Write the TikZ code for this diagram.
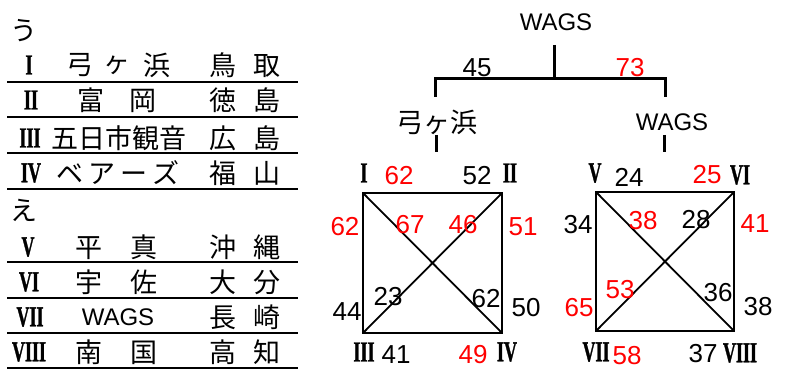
\documentclass[tikz,border=0pt]{standalone}
\usepackage{fontspec}
\usepackage{graphicx}
\setmainfont{Liberation Sans}
\newfontfamily\jpfont{Noto Sans CJK JP}
\newfontfamily\rnfont[BoldFeatures={FakeBold=1.5}]{Liberation Serif}
\newcommand{\rnum}[1]{\scalebox{0.62}[1]{#1}}
\begin{document}
\begin{tikzpicture}[x=1pt,y=-1pt,
  jp/.style={font=\jpfont\fontsize{27}{27}\selectfont, inner sep=0pt, anchor=center},
  lat/.style={font=\fontsize{24}{24}\selectfont, inner sep=0pt, anchor=center},
  num/.style={font=\fontsize{26}{26}\selectfont, inner sep=0pt, anchor=center},
  rnum/.style={num, text=red},
  rn/.style={font=\rnfont\bfseries\fontsize{29}{29}\selectfont, inner sep=0pt, anchor=center},
  rule/.style={line width=2.6pt},
  tree/.style={line width=3pt},
  sq/.style={line width=1.8pt}]
\useasboundingbox (0,0) rectangle (787,371);
% ---- table ----
\node[jp] (u) at (24,31) {う};
\node[rn] (r1) at (29,65) {\rnum{I}};
\node[jp] (n1a) at (80,65) {弓};
\node[jp] (n1b) at (117,65) {ヶ};
\node[jp] (n1c) at (157,65) {浜};
\node[jp] (p1) at (245,65) {鳥\hspace{17pt}取};
\node[rn] (r2) at (31,100) {\rnum{II}};
\node[jp] (n2) at (117,100) {富\hspace{26pt}岡};
\node[jp] (p2) at (245,100) {徳\hspace{17pt}島};
\node[rn] (r3) at (30,138) {\rnum{III}};
\node[jp] (n3) at (119,138) {五日市観音};
\node[jp] (p3) at (245,138) {広\hspace{17pt}島};
\node[rn] (r4) at (31,173) {\rnum{IV}};
\node[jp] (n4) at (118,173) {ベ\hspace{5pt}ア\hspace{5pt}ー\hspace{5pt}ズ};
\node[jp] (p4) at (245,173) {福\hspace{17pt}山};
\draw[rule] (7,82) -- (298,82);
\draw[rule] (7,117) -- (298,117);
\draw[rule] (7,153) -- (298,153);
\draw[rule] (7,189) -- (298,189);
\node[jp] (e) at (24,210) {え};
\node[rn] (r5) at (28,247) {\rnum{V}};
\node[jp] (n5) at (116,247) {平\hspace{28pt}真};
\node[jp] (p5) at (245,247) {沖\hspace{17pt}縄};
\node[rn] (r6) at (29,282) {\rnum{VI}};
\node[jp] (n6) at (116,282) {宇\hspace{28pt}佐};
\node[jp] (p6) at (245,282) {大\hspace{17pt}分};
\node[rn] (r7) at (30,317) {\rnum{VII}};
\node[lat] (n7) at (118,317) {WAGS};
\node[jp] (p7) at (245,317) {長\hspace{17pt}崎};
\node[rn] (r8) at (29,352) {\rnum{VIII}};
\node[jp] (n8) at (116,352) {南\hspace{28pt}国};
\node[jp] (p8) at (245,352) {高\hspace{17pt}知};
\draw[rule] (7,262) -- (298,262);
\draw[rule] (7,298) -- (298,298);
\draw[rule] (7,333) -- (298,333);
\draw[rule] (7,368) -- (298,368);
% ---- tree ----
\node[lat] (top) at (556,22) {WAGS};
\coordinate (t0) at (554,45);
\coordinate (t1) at (554,79);
\coordinate (tl) at (435,79);
\coordinate (tr) at (665,79);
\coordinate (tlb) at (435,97);
\coordinate (trb) at (665,97);
\draw[tree] (t0) -- (t1);
\draw[tree] (tlb) -- (tl) -- (tr) -- (trb);
\node[num] (s45) at (477,68) {45};
\node[rnum] (s73) at (630,68) {73};
\node[jp] (lname) at (437,122) {弓ヶ浜};
\node[lat] (rname) at (672,122) {WAGS};
\coordinate (la) at (436,135);
\coordinate (lb) at (436,152);
\coordinate (ra) at (664,135);
\coordinate (rb) at (664,152);
\draw[tree] (la) -- (lb);
\draw[tree] (ra) -- (rb);
% ---- left square ----
\coordinate (A1) at (363,193);
\coordinate (A2) at (502,193);
\coordinate (A3) at (363,333);
\coordinate (A4) at (502,333);
\draw[sq] (A1) -- (A2) -- (A4) -- (A3) -- cycle;
\draw[sq] (A1) -- (A4);
\draw[sq] (A2) -- (A3);
\node[rn] (L1) at (364,173) {\rnum{I}};
\node[rnum] (a1) at (399,176) {62};
\node[num] (a2) at (477,176) {52};
\node[rn] (L2) at (510,173) {\rnum{II}};
\node[rnum] (a3) at (345,227) {62};
\node[rnum] (a4) at (410,225) {67};
\node[rnum] (a5) at (463,225) {46};
\node[rnum] (a6) at (523,227) {51};
\node[num] (a7) at (388,297) {23};
\node[num] (a8) at (486,299) {62};
\node[num] (a9) at (347,312) {44};
\node[num] (a10) at (526,308) {50};
\node[rn] (L3) at (364,352) {\rnum{III}};
\node[num] (a11) at (396,355) {41};
\node[rnum] (a12) at (473,355) {49};
\node[rn] (L4) at (507,352) {\rnum{IV}};
% ---- right square ----
\coordinate (B1) at (596,192);
\coordinate (B2) at (734,192);
\coordinate (B3) at (596,331);
\coordinate (B4) at (734,331);
\draw[sq] (B1) -- (B2) -- (B4) -- (B3) -- cycle;
\draw[sq] (B1) -- (B4);
\draw[sq] (B2) -- (B3);
\node[rn] (L5) at (595,173) {\rnum{V}};
\node[num] (b1) at (629,177) {24};
\node[rnum] (b2) at (707,175) {25};
\node[rn] (L6) at (740,175) {\rnum{VI}};
\node[num] (b3) at (578,225) {34};
\node[rnum] (b4) at (643,221) {38};
\node[num] (b5) at (696,220) {28};
\node[rnum] (b6) at (755,224) {41};
\node[rnum] (b7) at (620,290) {53};
\node[num] (b8) at (718,293) {36};
\node[rnum] (b9) at (579,308) {65};
\node[num] (b10) at (758,307) {38};
\node[rn] (L7) at (596,352) {\rnum{VII}};
\node[rnum] (b11) at (627,356) {58};
\node[num] (b12) at (703,354) {37};
\node[rn] (L8) at (740,353) {\rnum{VIII}};
\end{tikzpicture}
\end{document}
